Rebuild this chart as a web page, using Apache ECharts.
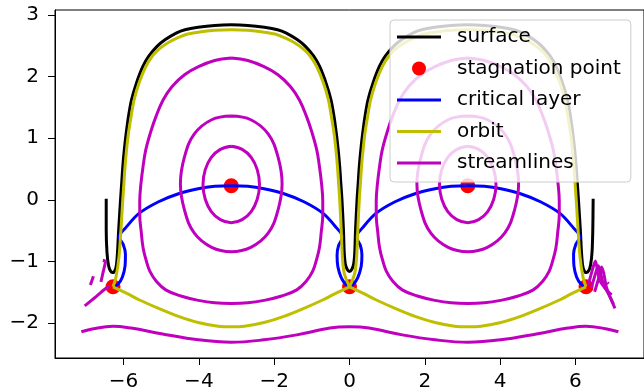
<!DOCTYPE html>
<html>
<head>
<meta charset="utf-8">
<script src="https://cdn.jsdelivr.net/npm/echarts@6/dist/echarts.min.js"></script>
<style>
  html, body { margin: 0; padding: 0; background: #fff; }
  #chart { width: 644px; height: 392px; }
</style>
</head>
<body>
<div id="chart"></div>
<script>
// tick labels
var xTicks = [-6, -4, -2, 0, 2, 4, 6];
var yTicks = [-2, -1, 0, 1, 2, 3];

// surface (one long curve, left U -> arch -> U at 0 -> arch -> right U)
var surface = [
  [-6.46, 0.02], [-6.46, -0.49], [-6.44, -0.85], [-6.4, -1.06], [-6.35, -1.15], [-6.29, -1.18],
  [-6.23, -1.15], [-6.19, -1.06], [-6.16, -0.85], [-6.13, -0.49], [-6.08, 0],
  [-6.05, 0.27], [-6.02, 0.54], [-5.98, 0.81], [-5.93, 1.08], [-5.87, 1.35], [-5.79, 1.62],
  [-5.66, 1.89], [-5.49, 2.16], [-5.33, 2.33], [-5.11, 2.49], [-4.89, 2.6], [-4.59, 2.71],
  [-4.37, 2.76], [-4.02, 2.8], [-3.58, 2.83], [-3.14, 2.84], [-2.7, 2.83], [-2.26, 2.8],
  [-1.91, 2.76], [-1.69, 2.71], [-1.39, 2.6], [-1.17, 2.49], [-0.95, 2.33], [-0.79, 2.16],
  [-0.62, 1.89], [-0.49, 1.62], [-0.41, 1.35], [-0.35, 1.08], [-0.3, 0.81], [-0.26, 0.54],
  [-0.23, 0.27], [-0.2, 0], [-0.16, -0.49], [-0.14, -0.85], [-0.11, -1.04], [-0.06, -1.13],
  [0, -1.16], [0.06, -1.13], [0.11, -1.04], [0.14, -0.85], [0.16, -0.49], [0.2, 0],
  [0.23, 0.27], [0.26, 0.54], [0.3, 0.81], [0.35, 1.08], [0.41, 1.35], [0.49, 1.62],
  [0.62, 1.89], [0.79, 2.16], [0.95, 2.33], [1.17, 2.49], [1.39, 2.6], [1.69, 2.71],
  [1.91, 2.76], [2.26, 2.8], [2.7, 2.83], [3.14, 2.84], [3.58, 2.83], [4.02, 2.8],
  [4.37, 2.76], [4.59, 2.71], [4.89, 2.6], [5.11, 2.49], [5.33, 2.33], [5.49, 2.16],
  [5.66, 1.89], [5.79, 1.62], [5.87, 1.35], [5.93, 1.08], [5.98, 0.81], [6.02, 0.54],
  [6.05, 0.27], [6.08, 0], [6.13, -0.49], [6.16, -0.85], [6.19, -1.06], [6.23, -1.15],
  [6.29, -1.18], [6.35, -1.15], [6.4, -1.06], [6.44, -0.85], [6.46, -0.49], [6.47, 0.02]
];

var stagnation = [[-6.28, -1.41], [0, -1.41], [6.28, -1.41], [-3.14, 0.23], [3.14, 0.23]];

var critical = [
  [-6.28, -1.41], [-6.15, -1.37], [-6.03, -1.25], [-5.96, -1.07], [-5.95, -0.88], [-6.01, -0.72],
  [-6.12, -0.6], [-5.94, -0.45], [-5.59, -0.22], [-5.07, -0.03], [-4.54, 0.1], [-4.02, 0.18],
  [-3.58, 0.22], [-3.14, 0.23], [-2.7, 0.22], [-2.27, 0.18], [-1.74, 0.1], [-1.21, -0.03],
  [-0.7, -0.22], [-0.35, -0.45], [-0.18, -0.6], [-0.29, -0.74], [-0.33, -0.9], [-0.31, -1.08],
  [-0.22, -1.26], [-0.1, -1.37], [0, -1.41], [0.1, -1.37], [0.22, -1.26], [0.31, -1.08],
  [0.33, -0.9], [0.29, -0.74], [0.18, -0.6], [0.35, -0.45], [0.7, -0.22], [1.21, -0.03],
  [1.74, 0.1], [2.27, 0.18], [2.7, 0.22], [3.14, 0.23], [3.58, 0.22], [4.02, 0.18],
  [4.54, 0.1], [5.07, -0.03], [5.59, -0.22], [5.94, -0.45], [6.12, -0.6], [6.01, -0.72],
  [5.95, -0.88], [5.96, -1.07], [6.03, -1.25], [6.15, -1.37], [6.28, -1.41]
];

// orbit pieces
var orbitArchLeft = [
  [-6.28, -1.41], [-6.2, -1.25], [-6.12, -0.92], [-6.07, -0.49], [-6.02, 0], [-5.99, 0.27],
  [-5.96, 0.54], [-5.92, 0.81], [-5.87, 1.08], [-5.8, 1.35], [-5.72, 1.62], [-5.59, 1.89],
  [-5.41, 2.16], [-5.24, 2.33], [-5.05, 2.45], [-4.82, 2.55], [-4.52, 2.64], [-4.3, 2.69],
  [-4.02, 2.72], [-3.58, 2.75], [-3.14, 2.76], [-2.7, 2.75], [-2.26, 2.72], [-1.98, 2.69],
  [-1.76, 2.64], [-1.46, 2.55], [-1.23, 2.45], [-1.04, 2.33], [-0.87, 2.16], [-0.69, 1.89],
  [-0.56, 1.62], [-0.48, 1.35], [-0.41, 1.08], [-0.36, 0.81], [-0.32, 0.54], [-0.29, 0.27],
  [-0.26, 0], [-0.22, -0.49], [-0.19, -0.92], [-0.15, -1.16], [-0.08, -1.3], [0, -1.41]
];
var orbitArchRight = [
  [0, -1.41], [0.08, -1.3], [0.15, -1.16], [0.19, -0.92], [0.22, -0.49], [0.26, 0],
  [0.29, 0.27], [0.32, 0.54], [0.36, 0.81], [0.41, 1.08], [0.48, 1.35], [0.56, 1.62],
  [0.69, 1.89], [0.87, 2.16], [1.04, 2.33], [1.23, 2.45], [1.46, 2.55], [1.76, 2.64],
  [1.98, 2.69], [2.26, 2.72], [2.7, 2.75], [3.14, 2.76], [3.58, 2.75], [4.02, 2.72],
  [4.3, 2.69], [4.52, 2.64], [4.82, 2.55], [5.05, 2.45], [5.24, 2.33], [5.41, 2.16],
  [5.59, 1.89], [5.72, 1.62], [5.8, 1.35], [5.87, 1.08], [5.92, 0.81], [5.96, 0.54],
  [5.99, 0.27], [6.02, 0], [6.07, -0.49], [6.12, -0.92], [6.2, -1.25], [6.28, -1.41]
];
var orbitLowLeft = [
  [-6.28, -1.41], [-5.9, -1.52], [-5.59, -1.62], [-5.07, -1.76], [-4.54, -1.89], [-4.02, -1.99],
  [-3.49, -2.05], [-3.14, -2.06], [-2.79, -2.05], [-2.27, -1.99], [-1.74, -1.89], [-1.21, -1.76],
  [-0.7, -1.62], [-0.38, -1.52], [0, -1.41]
];
var orbitLowRight = [
  [0, -1.41], [0.38, -1.52], [0.7, -1.62], [1.21, -1.76], [1.74, -1.89], [2.27, -1.99],
  [2.79, -2.05], [3.14, -2.06], [3.49, -2.05], [4.02, -1.99], [4.54, -1.89], [5.07, -1.76],
  [5.59, -1.62], [5.9, -1.52], [6.28, -1.41]
];

// streamlines
var smallLeft = [
  [-3.14, 0.87], [-2.85, 0.82], [-2.61, 0.69], [-2.45, 0.49], [-2.39, 0.25], [-2.45, 0.01],
  [-2.61, -0.19], [-2.85, -0.32], [-3.14, -0.37], [-3.43, -0.32], [-3.67, -0.19], [-3.83, 0.01],
  [-3.89, 0.25], [-3.83, 0.49], [-3.67, 0.69], [-3.43, 0.82], [-3.14, 0.87]
];
var smallRight = [
  [3.14, 0.87], [3.43, 0.82], [3.67, 0.69], [3.83, 0.49], [3.89, 0.25], [3.83, 0.01],
  [3.67, -0.19], [3.43, -0.32], [3.14, -0.37], [2.85, -0.32], [2.61, -0.19], [2.45, 0.01],
  [2.39, 0.25], [2.45, 0.49], [2.61, 0.69], [2.85, 0.82], [3.14, 0.87]
];
var midLeft = [
  [-3.14, 1.36], [-2.62, 1.3], [-2.16, 1.07], [-1.9, 0.7], [-1.79, 0.26], [-1.9, -0.17],
  [-2.16, -0.54], [-2.62, -0.77], [-3.14, -0.84], [-3.66, -0.77], [-4.12, -0.54], [-4.38, -0.17],
  [-4.49, 0.26], [-4.38, 0.7], [-4.12, 1.07], [-3.66, 1.3], [-3.14, 1.36]
];
var midRight = [
  [3.14, 1.36], [3.66, 1.3], [4.12, 1.07], [4.38, 0.7], [4.49, 0.26], [4.38, -0.17],
  [4.12, -0.54], [3.66, -0.77], [3.14, -0.84], [2.62, -0.77], [2.16, -0.54], [1.9, -0.17],
  [1.79, 0.26], [1.9, 0.7], [2.16, 1.07], [2.62, 1.3], [3.14, 1.36]
];
var bigLeft = [
  [-3.14, 2.3], [-2.7, 2.26], [-2.27, 2.16], [-1.9, 2.03], [-1.57, 1.84], [-1.33, 1.62],
  [-1.14, 1.35], [-1.0, 1.1], [-0.87, 0.81], [-0.8, 0.55], [-0.74, 0.25], [-0.71, -0.02],
  [-0.71, -0.25], [-0.75, -0.52], [-0.8, -0.78], [-0.88, -0.98], [-0.98, -1.16], [-1.15, -1.32],
  [-1.4, -1.46], [-1.8, -1.56], [-2.27, -1.63], [-2.7, -1.67], [-3.14, -1.68], [-3.58, -1.67],
  [-4.01, -1.63], [-4.48, -1.56], [-4.88, -1.46], [-5.13, -1.32], [-5.3, -1.16], [-5.4, -0.98],
  [-5.48, -0.78], [-5.53, -0.52], [-5.57, -0.25], [-5.57, -0.02], [-5.54, 0.25], [-5.48, 0.55],
  [-5.41, 0.81], [-5.28, 1.1], [-5.14, 1.35], [-4.95, 1.62], [-4.71, 1.84], [-4.38, 2.03],
  [-4.01, 2.16], [-3.58, 2.26], [-3.14, 2.3]
];
var bigRight = [
  [3.14, 2.3], [3.58, 2.26], [4.01, 2.16], [4.38, 2.03], [4.71, 1.84], [4.95, 1.62],
  [5.14, 1.35], [5.28, 1.1], [5.41, 0.81], [5.48, 0.55], [5.54, 0.25], [5.57, -0.02],
  [5.57, -0.25], [5.53, -0.52], [5.48, -0.78], [5.4, -0.98], [5.3, -1.16], [5.13, -1.32],
  [4.88, -1.46], [4.48, -1.56], [4.01, -1.63], [3.58, -1.67], [3.14, -1.68], [2.7, -1.67],
  [2.27, -1.63], [1.8, -1.56], [1.4, -1.46], [1.15, -1.32], [0.98, -1.16], [0.88, -0.98],
  [0.8, -0.78], [0.75, -0.52], [0.71, -0.25], [0.71, -0.02], [0.74, 0.25], [0.8, 0.55],
  [0.87, 0.81], [1.0, 1.1], [1.14, 1.35], [1.33, 1.62], [1.57, 1.84], [1.9, 2.03],
  [2.27, 2.16], [2.7, 2.26], [3.14, 2.3]
];
var bottomLine = [
  [-7.12, -2.14], [-6.8, -2.09], [-6.28, -2.05], [-5.8, -2.08], [-5.0, -2.17], [-4.02, -2.27],
  [-3.14, -2.31], [-2.27, -2.27], [-1.4, -2.19], [-0.52, -2.08], [0, -2.06], [0.52, -2.08],
  [1.4, -2.19], [2.27, -2.27], [3.14, -2.31], [4.02, -2.27], [5.0, -2.17], [5.8, -2.08],
  [6.28, -2.05], [6.8, -2.09], [7.14, -2.14]
];
var fragLeftA = [[-7.03, -1.72], [-6.75, -1.58], [-6.5, -1.45], [-6.36, -1.4]];
var fragLeftB = [[-6.6, -1.33], [-6.53, -1.14], [-6.48, -1.0], [-6.55, -0.98]];
var fragLeftC = [[-6.88, -1.38], [-6.8, -1.24]];
var fragRight1 = [[6.34, -1.38], [6.47, -1.09], [6.53, -0.99], [6.57, -1.09], [6.64, -1.3], [6.82, -1.46], [6.96, -1.54]];
var fragRight2 = [[6.42, -1.43], [6.55, -1.16], [6.61, -1.07], [6.66, -1.16], [6.73, -1.35], [6.89, -1.54], [7.01, -1.69]];
var fragRight3 = [[6.51, -1.49], [6.64, -1.22], [6.69, -1.09], [6.75, -1.19], [6.82, -1.41], [6.95, -1.62], [7.05, -1.76]];
var fragRightDot = [[6.85, -1.34], [6.88, -1.36]];

var BLACK = '#000000', RED = '#ff0000', BLUE = '#0000ff', OLIVE = '#bfbf00', MAGENTA = '#bf00bf';
var LW = 3;
var FONT = 'DejaVu Sans';
var LINE_ICON = 'path://M0,0H44V3H0Z';

function curve(name, data, color, smooth) {
  return {
    name: name,
    type: 'line',
    data: data,
    symbol: 'none',
    showSymbol: false,
    smooth: smooth === undefined ? 0.3 : smooth,
    lineStyle: { color: color, width: LW },
    itemStyle: { color: color },
    silent: true
  };
}

var series = [];
series.push(curve('surface', surface, BLACK, 0.3));
series.push({
  name: 'stagnation point',
  type: 'scatter',
  data: stagnation,
  symbol: 'circle',
  symbolSize: 15,
  itemStyle: { color: RED, opacity: 1 }
});
series.push(curve('critical layer', critical, BLUE, 0.3));
[orbitArchLeft, orbitArchRight, orbitLowLeft, orbitLowRight].forEach(function (d) {
  series.push(curve('orbit', d, OLIVE, 0.3));
});
[smallLeft, smallRight, midLeft, midRight, bigLeft, bigRight, bottomLine].forEach(function (d) {
  series.push(curve('streamlines', d, MAGENTA, 0.4));
});
[fragLeftA, fragLeftB, fragLeftC, fragRight1, fragRight2, fragRight3, fragRightDot].forEach(function (d) {
  series.push(curve('streamlines', d, MAGENTA, 0.2));
});

function minusFmt(v) {
  return v < 0 ? '\u2212' + Math.abs(v) : String(v);
}

var chart = echarts.init(document.getElementById('chart'), null, { renderer: 'canvas' });
chart.setOption({
  animation: false,
  backgroundColor: '#ffffff',
  grid: {
    left: 55, right: -8, top: 10, bottom: 34,
    show: true, borderColor: '#000', borderWidth: 1, backgroundColor: 'transparent'
  },
  xAxis: {
    type: 'value',
    min: -7.82, max: 7.82,
    axisLine: { show: true, onZero: false, lineStyle: { color: '#000', width: 1 } },
    axisTick: { show: true, inside: false, length: 7, customValues: xTicks, lineStyle: { color: '#000', width: 1 } },
    axisLabel: { customValues: xTicks, formatter: minusFmt, color: '#000', fontSize: 20, fontFamily: FONT, margin: 14 },
    splitLine: { show: false }
  },
  yAxis: {
    type: 'value',
    min: -2.565, max: 3.08,
    axisLine: { show: true, onZero: false, lineStyle: { color: '#000', width: 1 } },
    axisTick: { show: true, inside: false, length: 7, customValues: yTicks, lineStyle: { color: '#000', width: 1 } },
    axisLabel: { customValues: yTicks, formatter: minusFmt, color: '#000', fontSize: 20, fontFamily: FONT, margin: 16 },
    splitLine: { show: false }
  },
  legend: {
    orient: 'vertical',
    left: 390, top: 20,
    padding: [7, 10, 9, 7],
    itemWidth: 44, itemHeight: 14,
    itemGap: 11.5,
    symbolKeepAspect: true,
    backgroundColor: 'rgba(255,255,255,0.8)',
    borderColor: '#cccccc', borderWidth: 1, borderRadius: 4,
    selectedMode: false,
    data: [
      { name: 'surface', icon: LINE_ICON },
      { name: 'stagnation point', icon: 'circle' },
      { name: 'critical layer', icon: LINE_ICON },
      { name: 'orbit', icon: LINE_ICON },
      { name: 'streamlines', icon: LINE_ICON }
    ],
    textStyle: { color: '#000', fontSize: 20, fontFamily: FONT, lineHeight: 20, padding: [0, 0, 0, 11] }
  },
  series: series
});
</script>
</body>
</html>
